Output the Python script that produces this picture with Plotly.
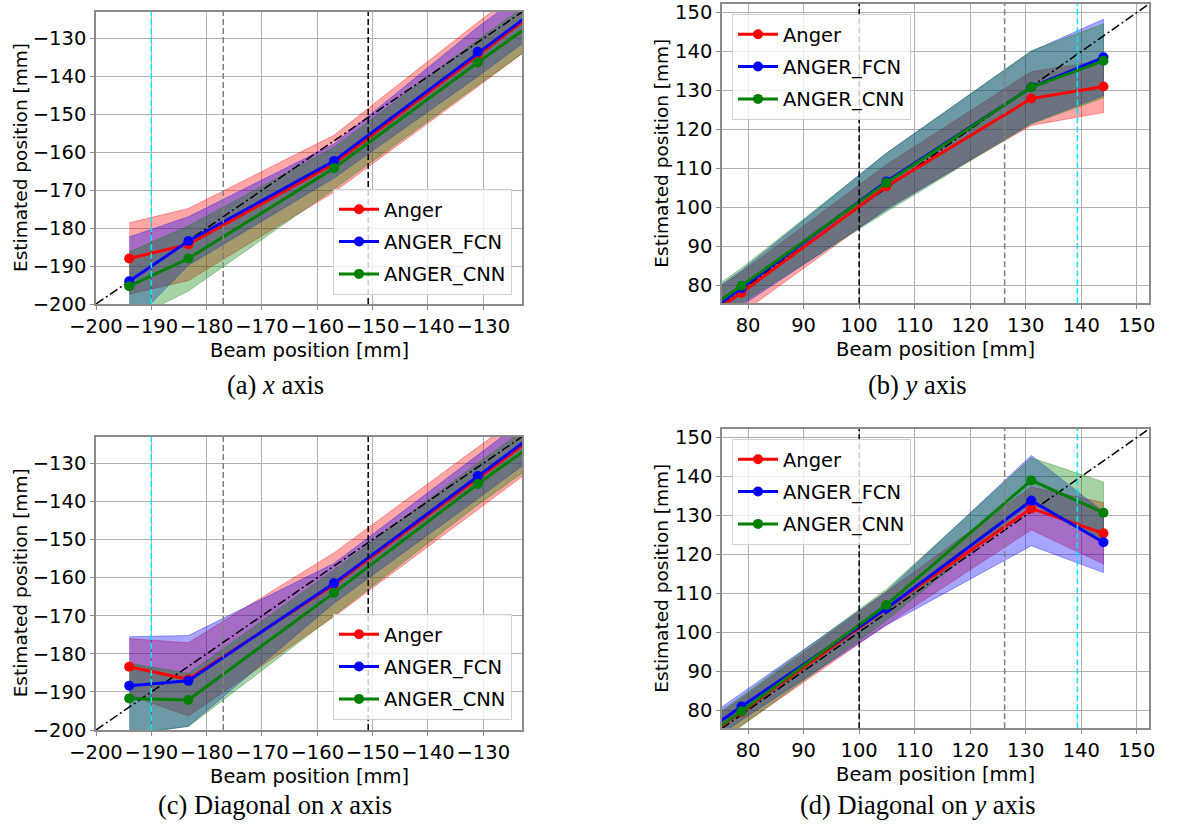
import plotly.graph_objects as go

# ---------------- data ----------------
series_names = ["Anger", "ANGER_FCN", "ANGER_CNN"]
series_colors = ["#ff0000", "#0000ff", "#008000"]
band_colors = ["rgba(255,0,0,0.35)", "rgba(0,0,255,0.35)", "rgba(0,128,0,0.35)"]

# (a) x axis
beam_a = [-194.0, -183.3, -157.0, -131.0, -105.0]
anger_a = [-188.0, -184.3, -163.0, -134.2, -105.9]
anger_a_std = [9.4, 9.5, 7.5, 8.5, 8.5]
fcn_a = [-194.0, -183.4, -162.3, -133.5, -105.5]
fcn_a_std = [11.7, 6.4, 4.5, 6.5, 6.5]
cnn_a = [-195.3, -188.0, -164.2, -136.3, -109.3]
cnn_a_std = [9.0, 8.6, 5.5, 6.0, 6.0]

# (b) y axis
beam_b = [52.0, 78.8, 104.9, 131.0, 144.0]
anger_b = [51.5, 78.0, 105.3, 127.9, 131.0]
anger_b_std = [5.3, 5.3, 5.6, 6.9, 6.7]
fcn_b = [52.5, 79.2, 106.6, 130.8, 138.5]
fcn_b_std = [4.5, 4.5, 7.3, 9.2, 9.8]
cnn_b = [53.3, 79.8, 106.3, 130.8, 137.6]
cnn_b_std = [4.5, 4.5, 7.5, 9.4, 9.5]

# (c) diagonal on x axis
beam_c = [-194.0, -183.3, -157.0, -131.0, -105.0]
anger_c = [-183.4, -186.7, -161.9, -134.2, -106.0]
anger_c_std = [7.4, 9.6, 8.4, 8.0, 8.0]
fcn_c = [-188.4, -187.1, -161.5, -133.3, -105.3]
fcn_c_std = [12.9, 11.9, 5.2, 6.0, 6.0]
cnn_c = [-191.7, -192.1, -164.0, -135.4, -108.5]
cnn_c_std = [9.2, 7.0, 6.0, 5.5, 5.5]

# (d) diagonal on y axis
beam_d = [52.0, 78.8, 104.9, 131.0, 144.0]
anger_d = [53.0, 79.5, 106.1, 131.8, 125.4]
anger_d_std = [3.5, 3.5, 4.2, 5.5, 7.9]
fcn_d = [54.0, 80.9, 106.1, 133.8, 123.1]
fcn_d_std = [3.5, 3.5, 4.3, 11.6, 7.8]
cnn_d = [53.0, 79.7, 107.0, 139.0, 130.7]
cnn_d_std = [3.8, 3.8, 4.0, 5.8, 7.9]

# axis limits
x_lim_xaxis = [-200.0, -123.0]
x_lim_yaxis = [75.3, 152.2]
xticks_x = [-200, -190, -180, -170, -160, -150, -140, -130]
xticks_y = [80, 90, 100, 110, 120, 130, 140, 150]

# reference vertical lines
vlines_x = [-190.0, -177.0, -150.8]
vlines_y = [100.0, 126.2, 139.3]
vline_colors_x = ["#00e5ff", "#808080", "#000000"]
vline_colors_y = ["#000000", "#808080", "#00e5ff"]

captions = ["(a) <i>x</i> axis", "(b) <i>y</i> axis",
            "(c) Diagonal on <i>x</i> axis", "(d) Diagonal on <i>y</i> axis"]

panels = [
    dict(beam=beam_a, means=[anger_a, fcn_a, cnn_a], stds=[anger_a_std, fcn_a_std, cnn_a_std],
         lim=x_lim_xaxis, ticks=xticks_x, vl=vlines_x, vlc=vline_colors_x),
    dict(beam=beam_b, means=[anger_b, fcn_b, cnn_b], stds=[anger_b_std, fcn_b_std, cnn_b_std],
         lim=x_lim_yaxis, ticks=xticks_y, vl=vlines_y, vlc=vline_colors_y),
    dict(beam=beam_c, means=[anger_c, fcn_c, cnn_c], stds=[anger_c_std, fcn_c_std, cnn_c_std],
         lim=x_lim_xaxis, ticks=xticks_x, vl=vlines_x, vlc=vline_colors_x),
    dict(beam=beam_d, means=[anger_d, fcn_d, cnn_d], stds=[anger_d_std, fcn_d_std, cnn_d_std],
         lim=x_lim_yaxis, ticks=xticks_y, vl=vlines_y, vlc=vline_colors_y),
]

# ---------------- layout geometry ----------------
W, H = 1189, 827
px = lambda v: v / W
py = lambda v: 1 - v / H
domains = [
    ([px(96), px(522)], [py(304), py(12)]),
    ([px(722), px(1149)], [py(303.3), py(4)]),
    ([px(96), px(522)], [py(730), py(436.7)]),
    ([px(722), px(1149)], [py(728.3), py(429)]),
]
ytitle_offset = [76, 60, 76, 60]
legend_pos = [
    dict(x=px(512), y=py(295), xanchor="right", yanchor="bottom"),
    dict(x=px(732), y=py(14), xanchor="left", yanchor="top"),
    dict(x=px(512), y=py(720), xanchor="right", yanchor="bottom"),
    dict(x=px(732), y=py(439), xanchor="left", yanchor="top"),
]
caption_pos = [(275, 385), (918, 385), (275, 805), (918, 805)]

FONT = "DejaVu Sans"
FS = 19.5
SPINE = "#8a8a8a"

fig = go.Figure()
layout = dict(width=W, height=H, margin=dict(l=0, r=0, t=0, b=0, autoexpand=False),
              paper_bgcolor="white", plot_bgcolor="white",
              font=dict(family=FONT, size=FS, color="black"),
              shapes=[], annotations=[])

for i, p in enumerate(panels):
    sfx = "" if i == 0 else str(i + 1)
    xa, ya = "x" + sfx, "y" + sfx
    leg = "legend" + sfx
    # bands
    for k in range(3):
        m, s = p["means"][k], p["stds"][k]
        up = [a + b for a, b in zip(m, s)]
        lo = [a - b for a, b in zip(m, s)]
        fig.add_trace(go.Scatter(
            x=p["beam"] + p["beam"][::-1], y=up + lo[::-1], mode="lines",
            fill="toself", fillcolor=band_colors[k],
            line=dict(color=band_colors[k], width=1),
            xaxis=xa, yaxis=ya, showlegend=False, hoverinfo="skip"))
    # diagonal y = x
    fig.add_trace(go.Scatter(x=p["lim"], y=p["lim"], mode="lines",
                             line=dict(color="black", width=1.5, dash="9px,3px,2px,3px"),
                             xaxis=xa, yaxis=ya, showlegend=False, hoverinfo="skip"))
    # lines
    for k in range(3):
        fig.add_trace(go.Scatter(
            x=p["beam"], y=p["means"][k], mode="lines+markers", name=series_names[k],
            line=dict(color=series_colors[k], width=3),
            marker=dict(color=series_colors[k], size=10),
            xaxis=xa, yaxis=ya, legend=leg, legendgroup=f"g{i}{k}"))
    # vertical lines
    for xv, c in zip(p["vl"], p["vlc"]):
        layout["shapes"].append(dict(type="line", xref=xa, yref=f"{ya} domain",
                                     x0=xv, x1=xv, y0=0, y1=1,
                                     line=dict(color=c, width=1.5, dash="6px,3px")))
    axis_common = dict(range=p["lim"], tickvals=p["ticks"], showgrid=True,
                       gridcolor="#b0b0b0", gridwidth=1, zeroline=False,
                       showline=True, mirror=True, linecolor=SPINE, linewidth=1.5,
                       ticks="outside", ticklen=4, tickwidth=1.2, tickcolor=SPINE,
                       automargin=False, tickangle=0,
                       tickfont=dict(family=FONT, size=FS, color="black"))
    layout["xaxis" + sfx] = dict(axis_common, domain=domains[i][0], anchor=ya)
    layout["yaxis" + sfx] = dict(axis_common, domain=domains[i][1], anchor=xa)
    layout[leg] = dict(legend_pos[i], bgcolor="rgba(255,255,255,0.8)",
                       bordercolor="#d0d0d0", borderwidth=1,
                       font=dict(family=FONT, size=FS), itemwidth=40,
                       traceorder="grouped", tracegroupgap=4)
    # axis titles
    x0, x1 = domains[i][0]
    y0, y1 = domains[i][1]
    layout["annotations"].append(dict(text="Beam position [mm]", xref="paper", yref="paper",
                                      x=(x0 + x1) / 2, y=y0 - 46 / H, xanchor="center",
                                      yanchor="middle", showarrow=False,
                                      font=dict(family=FONT, size=FS)))
    layout["annotations"].append(dict(text="Estimated position [mm]", xref="paper", yref="paper",
                                      x=x0 - ytitle_offset[i] / W, y=(y0 + y1) / 2,
                                      xanchor="center", yanchor="middle", textangle=-90,
                                      showarrow=False, font=dict(family=FONT, size=18.5)))
    cx, cy = caption_pos[i]
    layout["annotations"].append(dict(text=captions[i], xref="paper", yref="paper",
                                      x=px(cx), y=py(cy), xanchor="center", yanchor="middle",
                                      showarrow=False,
                                      font=dict(family="Liberation Serif", size=26.5)))

fig.update_layout(**layout)
fig.write_html("out.html")
